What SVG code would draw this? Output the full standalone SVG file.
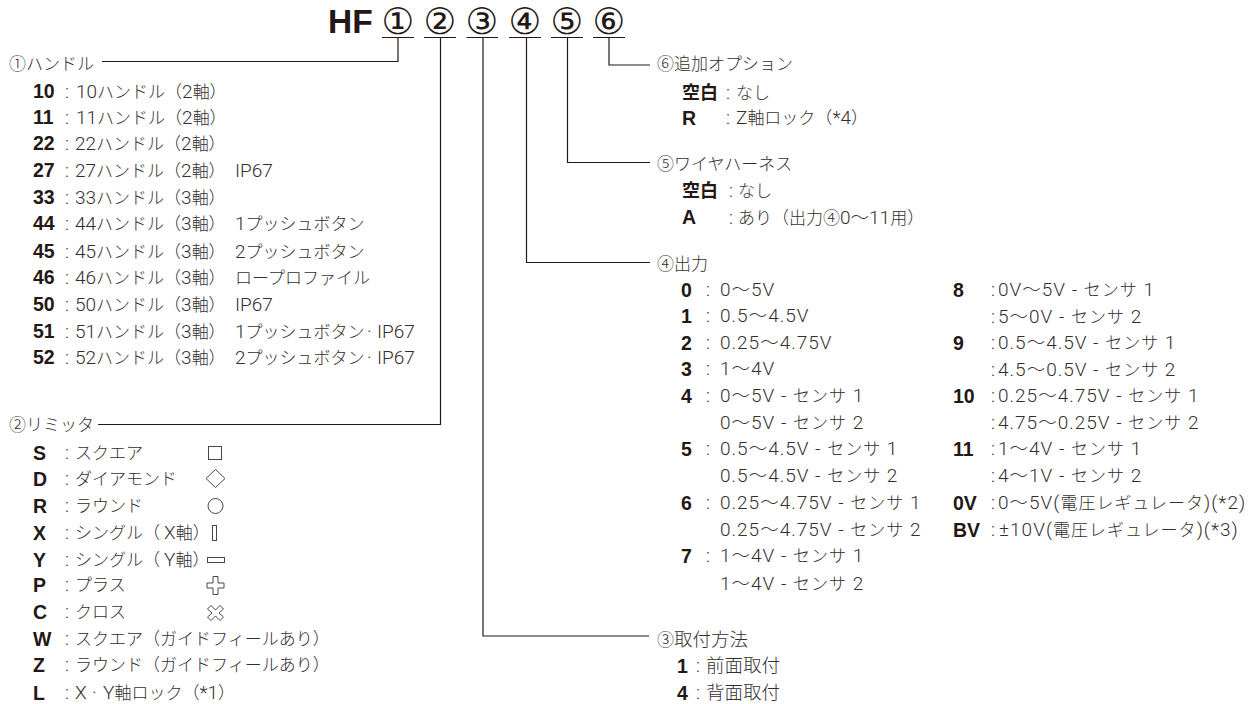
<svg xmlns="http://www.w3.org/2000/svg" width="1258" height="704" viewBox="0 0 1258 704">
<style>
text{font-family:"Roboto","Liberation Sans","Noto Sans CJK JP",sans-serif;font-size:19px;font-weight:300;fill:#332f2f}
tspan.j{font-family:"Noto Sans CJK JP",sans-serif;font-size:17px;font-weight:300}
tspan.m{font-family:"Noto Sans CJK JP",sans-serif;font-size:18.500px;font-weight:300}
.o{letter-spacing:1px}
text.k{font-family:"Liberation Sans",sans-serif;font-weight:700;fill:#231815;font-size:19.500px}
text.kj{font-family:"Noto Sans CJK JP",sans-serif;font-weight:700;fill:#231815;font-size:18px}
text.hf{font-family:"Liberation Sans",sans-serif;font-weight:700;font-size:33.500px;fill:#231815}
text.c{font-family:"DejaVu Sans",sans-serif;font-weight:400;font-size:36.500px;fill:#231815}
.l{fill:none;stroke:#231815;stroke-width:1.2}
.s{fill:none;stroke:#4a4646;stroke-width:1}
</style>
<rect width="1258" height="704" fill="#fff"/>
<g id="header">
<text class="hf" x="328" y="33">HF</text>
<text class="c" x="381.500" y="34">①</text>
<text class="c" x="423.500" y="34">②</text>
<text class="c" x="465.500" y="34">③</text>
<text class="c" x="508.500" y="34">④</text>
<text class="c" x="550.500" y="34">⑤</text>
<text class="c" x="592.500" y="34">⑥</text>
</g>
<g id="connectors" class="l">
<path d="M382 37.500H414M424 37.500H456M466.500 37.500H498M509 37.500H541M551 37.500H583M593 37.500H625"/>
<path d="M398 37.500V61.500H102"/>
<path d="M440.500 37.500V424.500H98"/>
<path d="M483 37.500V636H649"/>
<path d="M526.500 37.500V262.500H650"/>
<path d="M567.500 37.500V162.500H650"/>
<path d="M609 37.500V65H650"/>
</g>
<g id="node-handle">
<text x="9" y="70"><tspan class="j">①ハンドル</tspan></text>
<g><text class="k" x="33" y="98">10</text><text x="65" y="98">:</text><text x="76" y="98">10<tspan class="j">ハンドル（</tspan>2<tspan class="j">軸）</tspan></text></g>
<g><text class="k" x="33" y="124">11</text><text x="65" y="124">:</text><text x="76" y="124">11<tspan class="j">ハンドル（</tspan>2<tspan class="j">軸）</tspan></text></g>
<g><text class="k" x="33" y="150">22</text><text x="65" y="150">:</text><text x="75" y="150">22<tspan class="j">ハンドル（</tspan>2<tspan class="j">軸）</tspan></text></g>
<g><text class="k" x="33" y="177">27</text><text x="65" y="177">:</text><text x="75" y="177">27<tspan class="j">ハンドル（</tspan>2<tspan class="j">軸）</tspan><tspan x="235">IP67</tspan></text></g>
<g><text class="k" x="33" y="204">33</text><text x="65" y="204">:</text><text x="75" y="204">33<tspan class="j">ハンドル（</tspan>3<tspan class="j">軸）</tspan></text></g>
<g><text class="k" x="33" y="230">44</text><text x="65" y="230">:</text><text x="75" y="230">44<tspan class="j">ハンドル（</tspan>3<tspan class="j">軸）</tspan><tspan x="235">1</tspan><tspan class="j">プッシュボタン</tspan></text></g>
<g><text class="k" x="33" y="258">45</text><text x="65" y="258">:</text><text x="75" y="258">45<tspan class="j">ハンドル（</tspan>3<tspan class="j">軸）</tspan><tspan x="235">2</tspan><tspan class="j">プッシュボタン</tspan></text></g>
<g><text class="k" x="33" y="284">46</text><text x="65" y="284">:</text><text x="75" y="284">46<tspan class="j">ハンドル（</tspan>3<tspan class="j">軸）</tspan><tspan class="j" x="235">ロープロファイル</tspan></text></g>
<g><text class="k" x="33" y="311">50</text><text x="65" y="311">:</text><text x="75" y="311">50<tspan class="j">ハンドル（</tspan>3<tspan class="j">軸）</tspan><tspan x="235">IP67</tspan></text></g>
<g><text class="k" x="33" y="338">51</text><text x="65" y="338">:</text><text x="75" y="338">51<tspan class="j">ハンドル（</tspan>3<tspan class="j">軸）</tspan><tspan x="235">1</tspan><tspan class="j">プッシュボタン</tspan><tspan x="367">·</tspan><tspan x="377">IP67</tspan></text></g>
<g><text class="k" x="33" y="364">52</text><text x="65" y="364">:</text><text x="75" y="364">52<tspan class="j">ハンドル（</tspan>3<tspan class="j">軸）</tspan><tspan x="235">2</tspan><tspan class="j">プッシュボタン</tspan><tspan x="367">·</tspan><tspan x="377">IP67</tspan></text></g>
</g>
<g id="node-limiter">
<text x="9" y="431"><tspan class="j">②リミッタ</tspan></text>
<g><text class="k" x="33" y="460">S</text><text x="65" y="459">:</text><text x="75" y="459"><tspan class="j">スクエア</tspan></text></g>
<g><text class="k" x="33" y="486">D</text><text x="65" y="485">:</text><text x="75" y="485"><tspan class="j">ダイアモンド</tspan></text></g>
<g><text class="k" x="33" y="513">R</text><text x="65" y="512">:</text><text x="75" y="512"><tspan class="j">ラウンド</tspan></text></g>
<g><text class="k" x="33" y="540">X</text><text x="65" y="539">:</text><text x="75" y="539"><tspan class="j">シングル（</tspan><tspan x="164">X</tspan><tspan class="j">軸）</tspan></text></g>
<g><text class="k" x="33" y="567">Y</text><text x="65" y="566">:</text><text x="75" y="566"><tspan class="j">シングル（</tspan><tspan x="164">Y</tspan><tspan class="j">軸）</tspan></text></g>
<g><text class="k" x="33" y="592">P</text><text x="65" y="591">:</text><text x="75" y="591"><tspan class="j">プラス</tspan></text></g>
<g><text class="k" x="33" y="619">C</text><text x="65" y="618">:</text><text x="75" y="618"><tspan class="j">クロス</tspan></text></g>
<g><text class="k" x="33" y="646">W</text><text x="65" y="645">:</text><text x="75" y="645"><tspan class="j">スクエア（ガイドフィールあり）</tspan></text></g>
<g><text class="k" x="33" y="672">Z</text><text x="65" y="671">:</text><text x="75" y="671"><tspan class="j">ラウンド（ガイドフィールあり）</tspan></text></g>
<g><text class="k" x="33" y="700">L</text><text x="65" y="699">:</text><text x="75" y="699">X<tspan x="92">·</tspan><tspan x="103">Y</tspan><tspan class="j">軸ロック（</tspan>*1<tspan class="j">）</tspan></text></g>
<g class="s">
<rect x="208.500" y="446.500" width="13" height="13"/>
<path d="M215.500 469.500L225 478.500L215.500 487.500L206 478.500Z"/>
<circle cx="215.500" cy="506" r="7.500"/>
<rect x="212.500" y="525.500" width="4" height="15"/>
<rect x="207.500" y="557.500" width="17" height="5"/>
<path d="M213 576.500H218V583H224V588H218V594.500H213V588H207V583H213Z"/>
<path d="M207.500 609L211 605.500L215.500 610L220 605.500L223.500 609L219 613L223.500 617L220 620.500L215.500 616L211 620.500L207.500 617L212 613Z"/>
</g>
</g>
<g id="node-option6">
<text x="657" y="70"><tspan class="j">⑥追加オプション</tspan></text>
<g><text class="kj" x="682" y="99">空白</text><text x="726" y="99">:</text><text x="736" y="99"><tspan class="j">なし</tspan></text></g>
<g><text class="k" x="682" y="125">R</text><text x="726" y="124">:</text><text x="736" y="124">Z<tspan class="j">軸ロック（</tspan>*4<tspan class="j">）</tspan></text></g>
</g>
<g id="node-harness">
<text x="657" y="170"><tspan class="j">⑤ワイヤハーネス</tspan></text>
<g><text class="kj" x="682" y="197">空白</text><text x="729" y="197">:</text><text x="738" y="197"><tspan class="j">なし</tspan></text></g>
<g><text class="k" x="682" y="224">A</text><text x="729" y="224">:</text><text x="738" y="224"><tspan class="j">あり（出力④</tspan>0<tspan class="m">～</tspan>11<tspan class="j">用）</tspan></text></g>
</g>
<g id="node-output">
<text x="657" y="270"><tspan class="j">④出力</tspan></text>
<g><text class="k" x="681" y="297">0</text><text x="706" y="296">:</text><text class="o" x="720" y="296">0<tspan class="m">～</tspan>5V</text></g>
<g><text class="k" x="681" y="323">1</text><text x="706" y="322">:</text><text class="o" x="720" y="322">0.5<tspan class="m">～</tspan>4.5V</text></g>
<g><text class="k" x="681" y="350">2</text><text x="706" y="349">:</text><text class="o" x="720" y="349">0.25<tspan class="m">～</tspan>4.75V</text></g>
<g><text class="k" x="681" y="376">3</text><text x="706" y="375">:</text><text class="o" x="720" y="375">1<tspan class="m">～</tspan>4V</text></g>
<g><text class="k" x="681" y="403">4</text><text x="706" y="402">:</text><text class="o" x="720" y="402">0<tspan class="m">～</tspan>5V - <tspan class="j">センサ</tspan> 1</text></g>
<text class="o" x="720" y="429">0<tspan class="m">～</tspan>5V - <tspan class="j">センサ</tspan> 2</text>
<g><text class="k" x="681" y="456">5</text><text x="706" y="455">:</text><text class="o" x="720" y="455">0.5<tspan class="m">～</tspan>4.5V - <tspan class="j">センサ</tspan> 1</text></g>
<text class="o" x="720" y="482">0.5<tspan class="m">～</tspan>4.5V - <tspan class="j">センサ</tspan> 2</text>
<g><text class="k" x="681" y="510">6</text><text x="706" y="509">:</text><text class="o" x="720" y="509">0.25<tspan class="m">～</tspan>4.75V - <tspan class="j">センサ</tspan> 1</text></g>
<text class="o" x="720" y="536">0.25<tspan class="m">～</tspan>4.75V - <tspan class="j">センサ</tspan> 2</text>
<g><text class="k" x="681" y="563">7</text><text x="706" y="562">:</text><text class="o" x="720" y="562">1<tspan class="m">～</tspan>4V - <tspan class="j">センサ</tspan> 1</text></g>
<text class="o" x="720" y="590">1<tspan class="m">～</tspan>4V - <tspan class="j">センサ</tspan> 2</text>
<g><text class="k" x="953" y="297">8</text><text class="o" x="991" y="296">:<tspan x="998">0V</tspan><tspan class="m">～</tspan>5V - <tspan class="j">センサ</tspan> 1</text></g>
<text class="o" x="991" y="323">:<tspan x="998">5</tspan><tspan class="m">～</tspan>0V - <tspan class="j">センサ</tspan> 2</text>
<g><text class="k" x="953" y="350">9</text><text class="o" x="991" y="349">:<tspan x="998">0.5</tspan><tspan class="m">～</tspan>4.5V - <tspan class="j">センサ</tspan> 1</text></g>
<text class="o" x="991" y="376">:<tspan x="998">4.5</tspan><tspan class="m">～</tspan>0.5V - <tspan class="j">センサ</tspan> 2</text>
<g><text class="k" x="953" y="403">10</text><text class="o" x="991" y="402">:<tspan x="998">0.25</tspan><tspan class="m">～</tspan>4.75V - <tspan class="j">センサ</tspan> 1</text></g>
<text class="o" x="991" y="429">:<tspan x="998">4.75</tspan><tspan class="m">～</tspan>0.25V - <tspan class="j">センサ</tspan> 2</text>
<g><text class="k" x="953" y="456">11</text><text class="o" x="991" y="455">:<tspan x="998">1</tspan><tspan class="m">～</tspan>4V - <tspan class="j">センサ</tspan> 1</text></g>
<text class="o" x="991" y="482">:<tspan x="998">4</tspan><tspan class="m">～</tspan>1V - <tspan class="j">センサ</tspan> 2</text>
<g><text class="k" x="953" y="510">0V</text><text class="o" x="991" y="509">:<tspan x="998">0</tspan><tspan class="m">～</tspan>5V(<tspan class="j">電圧レギュレータ</tspan>)(*2)</text></g>
<g><text class="k" x="953" y="537">BV</text><text class="o" x="991" y="536">:<tspan x="999">±10V(</tspan><tspan class="j">電圧レギュレータ</tspan>)(*3)</text></g>
</g>
<g id="node-mount">
<text x="657" y="646"><tspan class="j">③</tspan><tspan class="m">取付方法</tspan></text>
<g><text class="k" x="677" y="673">1</text><text x="696" y="672">:</text><text x="706" y="672"><tspan class="m">前面取付</tspan></text></g>
<g><text class="k" x="677" y="700">4</text><text x="696" y="699">:</text><text x="706" y="699"><tspan class="m">背面取付</tspan></text></g>
</g>
</svg>
